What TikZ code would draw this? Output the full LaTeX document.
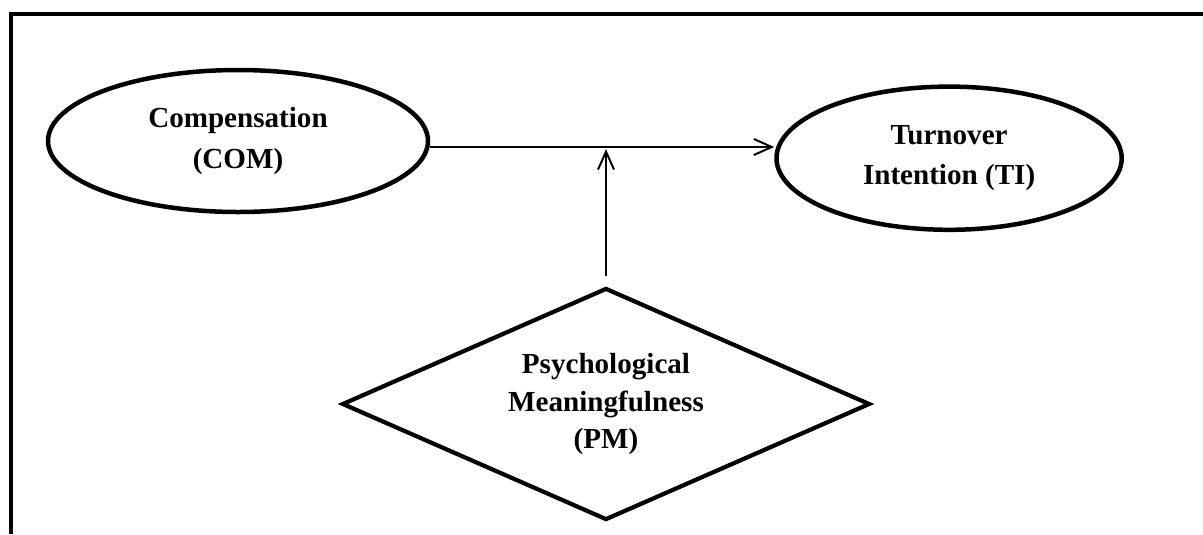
\documentclass[tikz,border=0pt]{standalone}
\usepackage{fontspec}
\setmainfont{Liberation Serif}
\usetikzlibrary{arrows.meta,positioning,shapes.geometric}
\tikzset{
  construct/.style={ellipse, draw=black, line width=3.2pt, inner sep=0pt,
    align=center, font=\bfseries\fontsize{20.7}{28.5}\selectfont},
  moderator/.style={diamond, draw=black, line width=3pt, inner sep=0pt, aspect=2.28,
    minimum width=13.2cm, minimum height=5.8cm, align=center,
    font=\bfseries\fontsize{20.7}{27}\selectfont},
  arrow/.style={-{Straight Barb[length=4.5mm,width=4mm]}, line width=1.4pt},
  frame/.style={line width=3.5pt}
}

\begin{document}
\begin{tikzpicture}
  \useasboundingbox (0,0) rectangle (30.075,-13.35);
  \draw[frame] (0.275,-13.35) |- (30.075,-0.35);
  \node[construct, minimum width=9.5cm, minimum height=3.55cm] (COM) at (5.95,-3.525) {Compensation\\(COM)};
  \node[construct, minimum width=8.63cm, minimum height=3.58cm, right=8.6cm of COM, yshift=-0.43cm] (TI) {Turnover\\Intention (TI)};
  \node[moderator] (PM) at (15.15,-10.1) {Psychological\\Meaningfulness\\(PM)};
  \coordinate (link) at ([yshift=-0.15cm]COM.east);
  \draw[arrow] (link) -- (link -| TI.west);
  \draw[arrow, shorten >=1.5pt] ([yshift=0.25cm]PM.north) -- (PM.north |- link);
\end{tikzpicture}
\end{document}
